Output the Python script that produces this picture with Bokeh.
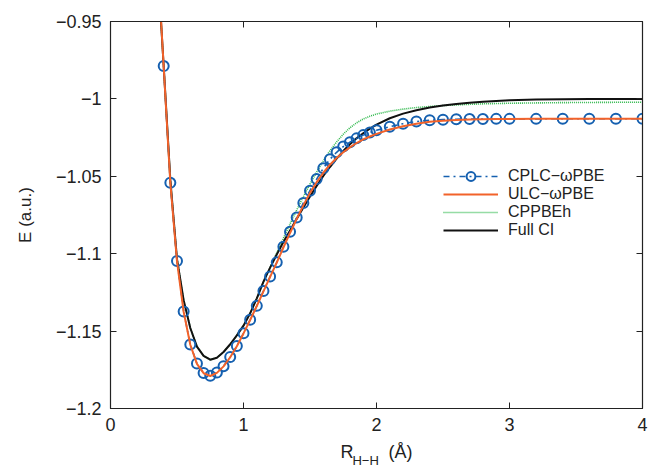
from bokeh.plotting import figure
from bokeh.models import (Range1d, FixedTicker, LinearAxis, Legend, LegendItem,
                          CustomJSTickFormatter)
from bokeh.embed import file_html
from bokeh.resources import INLINE

# ---------------- data ----------------
x_cplc = [0.40, 0.45, 0.50, 0.55, 0.60, 0.65, 0.70, 0.75, 0.80, 0.85, 0.90, 0.95,
          1.00, 1.05, 1.10, 1.15, 1.20, 1.25, 1.30, 1.35, 1.40, 1.45, 1.50, 1.55,
          1.60, 1.65, 1.70, 1.75, 1.80, 1.85, 1.90, 1.95, 2.00,
          2.1, 2.2, 2.3, 2.4, 2.5, 2.6, 2.7, 2.8, 2.9, 3.0,
          3.2, 3.4, 3.6, 3.8, 4.0]
e_cplc = [-0.9788, -1.0542, -1.1047, -1.1373, -1.1586, -1.1710, -1.1770, -1.1789,
          -1.1768, -1.1727, -1.1668, -1.1597, -1.1514, -1.1427, -1.1337, -1.1241,
          -1.1148, -1.1056, -1.0955, -1.0858, -1.0766, -1.0672, -1.0593, -1.0518,
          -1.0448, -1.0390, -1.0345, -1.0308, -1.0280, -1.0255, -1.0234, -1.0217,
          -1.0203, -1.0180, -1.0160, -1.0146, -1.0138, -1.0134, -1.0131, -1.0130,
          -1.0130, -1.0129, -1.0129, -1.0129, -1.0128, -1.0128, -1.0128, -1.0128]

x_curve = [0.37, 0.40, 0.45, 0.50, 0.55, 0.60, 0.65, 0.70, 0.75, 0.80, 0.85, 0.90,
           0.95, 1.00, 1.05, 1.10, 1.15, 1.20, 1.25, 1.30, 1.35, 1.40, 1.45, 1.50,
           1.55, 1.60, 1.65, 1.70, 1.75, 1.80, 1.85, 1.90, 1.95, 2.00,
           2.10, 2.20, 2.30, 2.40, 2.50, 2.60, 2.70, 2.80, 2.90, 3.00,
           3.20, 3.40, 3.60, 3.80, 4.00]
e_ulc = [-0.9340, -0.9795, -1.0545, -1.1050, -1.1375, -1.1588, -1.1712, -1.1772,
         -1.1790, -1.1770, -1.1728, -1.1669, -1.1598, -1.1515, -1.1428, -1.1338,
         -1.1243, -1.1150, -1.1058, -1.0960, -1.0866, -1.0775, -1.0688, -1.0607,
         -1.0538, -1.0477, -1.0425, -1.0382, -1.0345, -1.0313, -1.0285, -1.0262,
         -1.0243, -1.0226, -1.0198, -1.0177, -1.0160, -1.0148, -1.0141, -1.0136,
         -1.0133, -1.0131, -1.0130, -1.0130, -1.0129, -1.0128, -1.0128, -1.0128,
         -1.0128]
e_cppbeh = [-0.9360, -0.9790, -1.0525, -1.1035, -1.1300, -1.1480, -1.1600, -1.1660,
            -1.1685, -1.1672, -1.1635, -1.1585, -1.1528, -1.1462, -1.1385, -1.1290,
            -1.1185, -1.1090, -1.0995, -1.0900, -1.0808, -1.0718, -1.0632, -1.0550,
            -1.0472, -1.0400, -1.0335, -1.0278, -1.0228, -1.0187, -1.0155, -1.0130,
            -1.0112, -1.0098, -1.0079, -1.0066, -1.0056, -1.0049, -1.0043, -1.0039,
            -1.0035, -1.0032, -1.0030, -1.0028, -1.0026, -1.0024, -1.0023, -1.0022,
            -1.0022]
e_fci = [-0.9360, -0.9790, -1.0525, -1.1035, -1.1300, -1.1480, -1.1600, -1.1660,
         -1.1685, -1.1672, -1.1635, -1.1585, -1.1528, -1.1465, -1.1385, -1.1288,
         -1.1180, -1.1090, -1.1005, -1.0925, -1.0850, -1.0775, -1.0702, -1.0630,
         -1.0562, -1.0498, -1.0440, -1.0386, -1.0337, -1.0293, -1.0255, -1.0222,
         -1.0192, -1.0166, -1.0125, -1.0095, -1.0073, -1.0056, -1.0043, -1.0033,
         -1.0025, -1.0018, -1.0013, -1.0009, -1.0004, -1.0002, -1.0001, -1.0000,
         -1.0000]

x_ticks = [0, 1, 2, 3, 4]
y_ticks = [-1.2, -1.15, -1.1, -1.05, -1.0, -0.95]

labels = ["CPLC\u2212\u03c9PBE", "ULC\u2212\u03c9PBE", "CPPBEh", "Full CI"]
x_title_main = "R" + "\u00a0" * 7 + "(\u00c5)"
x_title_sub = "H\u2212H" + "\u00a0" * 6
y_title = "E (a.u.)"

# ---------------- figure ----------------
FONT = "Liberation Sans"
INK = "#222222"
BLUE = "#1560B0"
ORANGE = "#F2622A"
GREEN = "#2DB84A"

p = figure(width=650, height=470, output_backend="svg", toolbar_location=None,
           x_range=Range1d(0, 4), y_range=Range1d(-1.2, -0.95),
           min_border_left=110, min_border_right=8, min_border_top=21,
           min_border_bottom=58)
p.grid.visible = False
p.outline_line_color = INK
p.outline_line_width = 1.2
p.background_fill_color = "white"
p.border_fill_color = "white"

yfmt = CustomJSTickFormatter(code="""
const s = parseFloat(Math.abs(tick).toFixed(2)).toString();
return (tick < 0 ? '\u2212' : '') + s;
""")
blank = CustomJSTickFormatter(code="return '';")

for ax in [p.xaxis[0], p.yaxis[0]]:
    ax.major_tick_in = 6
    ax.major_tick_out = 0
    ax.minor_tick_in = 0
    ax.minor_tick_out = 0
    ax.axis_line_color = INK
    ax.major_tick_line_color = INK
    ax.major_label_text_font = FONT
    ax.major_label_text_font_size = "18px"
    ax.major_label_text_color = INK
    ax.axis_label_text_font = FONT
    ax.axis_label_text_font_style = "normal"
    ax.axis_label_text_color = INK

p.xaxis[0].ticker = FixedTicker(ticks=x_ticks)
p.yaxis[0].ticker = FixedTicker(ticks=y_ticks)
p.yaxis[0].formatter = yfmt
p.xaxis[0].major_label_standoff = 9
p.yaxis[0].major_label_standoff = 9

p.yaxis[0].axis_label = y_title
p.yaxis[0].axis_label_text_font_size = "17px"
p.yaxis[0].axis_label_standoff = 18

p.xaxis[0].axis_label = x_title_main
p.xaxis[0].axis_label_text_font_size = "18px"
p.xaxis[0].axis_label_standoff = 8

# subscript line of the x title (second, label-only axis below)
sub_ax = LinearAxis(ticker=FixedTicker(ticks=[]), formatter=blank,
                    major_tick_in=0, major_tick_out=0, minor_tick_in=0,
                    minor_tick_out=0, major_label_standoff=0,
                    axis_line_color=None, axis_label=x_title_sub,
                    axis_label_text_font=FONT, axis_label_text_font_size="13px",
                    axis_label_text_font_style="normal", axis_label_text_color=INK,
                    axis_label_standoff=-12)
p.add_layout(sub_ax, "below")

# mirrored ticks on right/top
rax = LinearAxis(ticker=FixedTicker(ticks=y_ticks), formatter=blank,
                 major_tick_in=6, major_tick_out=0, minor_tick_in=0,
                 minor_tick_out=0, major_label_standoff=0,
                 axis_line_color=INK, major_tick_line_color=INK)
tax = LinearAxis(ticker=FixedTicker(ticks=x_ticks), formatter=blank,
                 major_tick_in=6, major_tick_out=0, minor_tick_in=0,
                 minor_tick_out=0, major_label_standoff=0,
                 axis_line_color=INK, major_tick_line_color=INK)
p.add_layout(rax, "right")
p.add_layout(tax, "above")

# ---------------- glyphs ----------------
r_green = p.line(x_curve, e_cppbeh, line_color=GREEN, line_width=1.6, line_dash="1 1")
r_black = p.line(x_curve, e_fci, line_color="#111111", line_width=2)
r_bline = p.line(x_cplc, e_cplc, line_color=BLUE, line_width=1.6, line_dash="6 4 2 4")
r_circ = p.scatter(x_cplc, e_cplc, marker="circle", size=10, fill_color=None,
                   line_color=BLUE, line_width=2)
r_orange = p.line(x_curve, e_ulc, line_color=ORANGE, line_width=2)

# one single-row legend per entry, so the row pitch matches the reference
entries = [(labels[0], [r_bline, r_circ], 221),
           (labels[1], [r_orange], 203),
           (labels[2], [r_green], 185),
           (labels[3], [r_black], 167)]
for lab, rends, ly in entries:
    lg = Legend(items=[LegendItem(label=lab, renderers=rends)],
                location=(333, ly), padding=0, margin=0, spacing=0,
                glyph_width=55, glyph_height=22, label_height=22, label_standoff=10,
                label_text_font=FONT, label_text_font_size="16px",
                label_text_color=INK, border_line_alpha=0, background_fill_alpha=0)
    p.add_layout(lg)

open("out.html", "w").write(file_html(p, INLINE))
